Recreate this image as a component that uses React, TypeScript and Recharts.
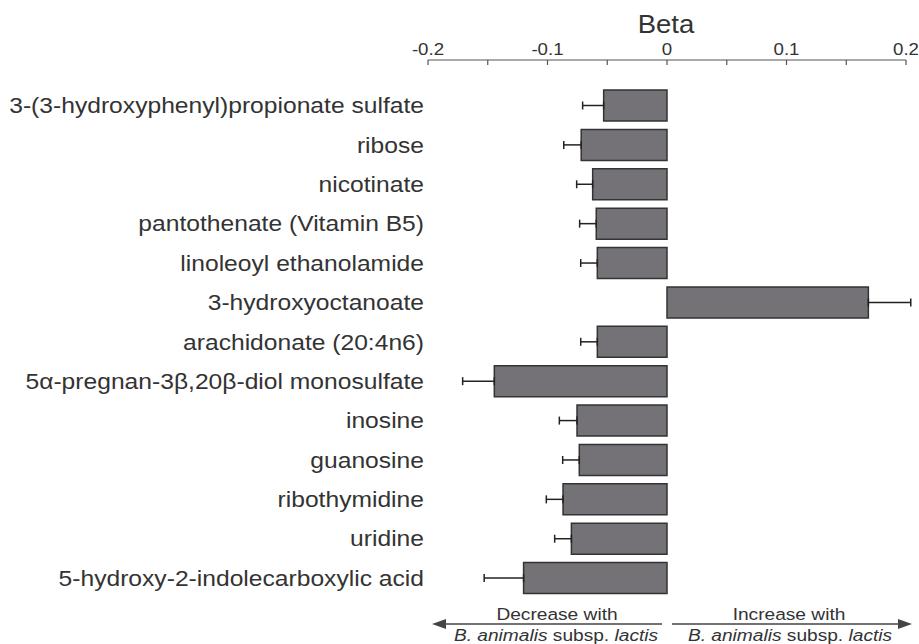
import { BarChart, Bar, XAxis, YAxis, ErrorBar } from 'recharts'

const metabolites = [
  '3-(3-hydroxyphenyl)propionate sulfate',
  'ribose',
  'nicotinate',
  'pantothenate (Vitamin B5)',
  'linoleoyl ethanolamide',
  '3-hydroxyoctanoate',
  'arachidonate (20:4n6)',
  '5α-pregnan-3β,20β-diol monosulfate',
  'inosine',
  'guanosine',
  'ribothymidine',
  'uridine',
  '5-hydroxy-2-indolecarboxylic acid',
]

const betas = [-0.053, -0.0718, -0.0622, -0.0592, -0.0583, 0.1685, -0.0583, -0.1445, -0.0753, -0.0734, -0.087, -0.08, -0.12]
const errors = [0.0176, 0.0146, 0.0134, 0.0139, 0.0139, 0.0355, 0.0139, 0.0265, 0.0148, 0.0139, 0.014, 0.014, 0.033]

const betaTicks = [-0.2, -0.15, -0.1, -0.05, 0, 0.05, 0.1, 0.15, 0.2]
const betaTickLabels: Record<string, string> = { '-0.2': '-0.2', '-0.1': '-0.1', '0': '0', '0.1': '0.1', '0.2': '0.2' }

// one-sided error bars, pointing away from zero
const data = metabolites.map((name, i) => ({
  name,
  beta: betas[i],
  err: betas[i] < 0 ? [errors[i], 0] : [0, errors[i]],
}))

const FONT = '"Liberation Sans", Arial, Helvetica, sans-serif'
const TEXT = '#333'
const SX = 1.1

function NameTick({ x, y, payload }: any) {
  return (
    <text
      transform={`translate(${x},${y}) scale(1.12,1)`}
      textAnchor="end"
      dominantBaseline="central"
      fontFamily={FONT}
      fontSize={22}
      fill={TEXT}
    >
      {payload.value}
    </text>
  )
}

function BetaTick({ x, y, payload }: any) {
  const label = betaTickLabels[String(payload.value)]
  return (
    <g>
      <line x1={x} x2={x} y1={y} y2={y + 5} stroke="#555" strokeWidth={1.2} />
      {label !== undefined && (
        <text
          transform={`translate(${x},${y - 5}) scale(${SX},1)`}
          textAnchor="middle"
          fontFamily={FONT}
          fontSize={17}
          fill={TEXT}
        >
          {label}
        </text>
      )}
    </g>
  )
}

export default function App() {
  return (
    <div style={{ position: 'absolute', left: 0, top: 0, width: 919, height: 644, background: '#fff' }}>
      <BarChart
        width={919}
        height={644}
        data={data}
        layout="vertical"
        margin={{ top: 20, right: 13, bottom: 46, left: 0 }}
      >
        <XAxis
          type="number"
          orientation="top"
          domain={[-0.2, 0.2]}
          ticks={betaTicks}
          allowDataOverflow
          height={40}
          tickSize={0}
          tickMargin={0}
          tickLine={false}
          axisLine={{ stroke: '#555', strokeWidth: 1.2 }}
          tick={<BetaTick />}
        />
        <YAxis
          type="category"
          dataKey="name"
          width={428}
          padding={{ top: 26, bottom: 0 }}
          axisLine={false}
          tickLine={false}
          tickSize={0}
          tickMargin={4}
          interval={0}
          tick={<NameTick />}
        />
        <Bar dataKey="beta" barSize={31} fill="#747277" stroke="#333" strokeWidth={1.5} isAnimationActive={false}>
          <ErrorBar dataKey="err" direction="x" width={4} stroke="#222" strokeWidth={1.5} isAnimationActive={false} />
        </Bar>
      </BarChart>
      <svg width={919} height={644} style={{ position: 'absolute', left: 0, top: 0, pointerEvents: 'none' }}>
        <text transform={`translate(666,33) scale(${SX},1)`} textAnchor="middle" fontFamily={FONT} fontSize={25} fill={TEXT}>
          Beta
        </text>
        <g stroke="#444" strokeWidth={1.5} fill="#444">
          <line x1={440} x2={662} y1={624} y2={624} />
          <path d="M432,624 L446,619 L446,629 Z" stroke="none" />
          <line x1={672} x2={900} y1={624} y2={624} />
          <path d="M912,624 L898,619 L898,629 Z" stroke="none" />
        </g>
        <g fontFamily={FONT} fontSize={17.4} fill={TEXT} textAnchor="middle">
          <text transform={`translate(557,620) scale(${SX},1)`}>Decrease with</text>
          <text transform={`translate(556,641) scale(${SX},1)`}>
            <tspan fontStyle="italic">B. animalis</tspan> subsp. <tspan fontStyle="italic">lactis</tspan>
          </text>
          <text transform={`translate(789,620) scale(${SX},1)`}>Increase with</text>
          <text transform={`translate(790,641) scale(${SX},1)`}>
            <tspan fontStyle="italic">B. animalis</tspan> subsp. <tspan fontStyle="italic">lactis</tspan>
          </text>
        </g>
      </svg>
    </div>
  )
}
